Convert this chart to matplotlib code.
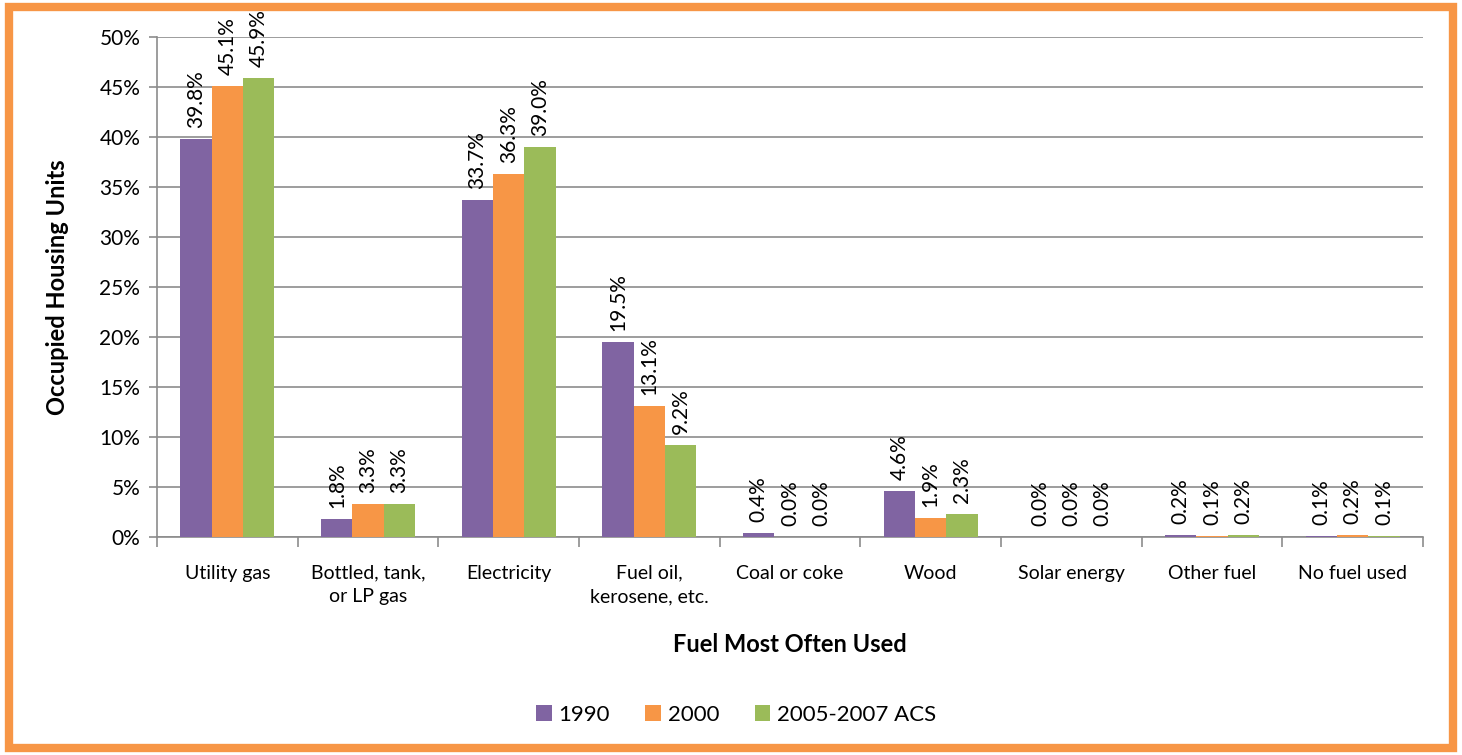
import numpy as np
import matplotlib
matplotlib.use("Agg")
import matplotlib.pyplot as plt
from matplotlib.patches import Rectangle
from matplotlib.ticker import FixedLocator, PercentFormatter

plt.rcParams['font.family'] = ['Lato', 'DejaVu Sans']

categories = ["Utility gas", "Bottled, tank,\nor LP gas", "Electricity", "Fuel oil,\nkerosene, etc.",
              "Coal or coke", "Wood", "Solar energy", "Other fuel", "No fuel used"]
series_names = ["1990", "2000", "2005-2007 ACS"]
v1990 = [39.8, 1.8, 33.7, 19.5, 0.4, 4.6, 0.0, 0.2, 0.1]
v2000 = [45.1, 3.3, 36.3, 13.1, 0.0, 1.9, 0.0, 0.1, 0.2]
v2005 = [45.9, 3.3, 39.0, 9.2, 0.0, 2.3, 0.0, 0.2, 0.1]
colors = ["#8064A2", "#F79646", "#9BBB59"]

fig = plt.figure(figsize=(14.62, 7.55), dpi=100)
ax = fig.add_axes([157/1462, 1-537/755, (1423-157)/1462, 500/755])

# orange frame around the chart
fig.patches.append(Rectangle((9/1462, 7/755), 1444/1462, 741/755, transform=fig.transFigure,
                             fill=False, edgecolor="#F79646", linewidth=6))

x = np.arange(len(categories))
w = 0.222
for i, (vals, col, name) in enumerate(zip([v1990, v2000, v2005], colors, series_names)):
    pos = x + (i - 1) * w
    ax.bar(pos, vals, width=w, color=col, label=name, zorder=3)
    for px, v in zip(pos, vals):
        ax.annotate(f"{v:.1f}%", (px, v), xytext=(0, 8), textcoords="offset points",
                    rotation=90, ha="center", va="bottom", fontsize=15)

ax.set_xlim(-0.5, len(categories) - 0.5)
ax.set_ylim(0, 50)
ax.yaxis.set_major_locator(FixedLocator(np.arange(0, 51, 5)))
ax.yaxis.set_major_formatter(PercentFormatter(decimals=0))
ax.grid(axis="y", color="#8C8C8C", linewidth=1.2, zorder=0)

ax.set_xticks(x)
ax.set_xticklabels(categories, fontsize=14, linespacing=1.45)
ax.xaxis.set_minor_locator(FixedLocator(np.arange(-0.5, len(categories), 1)))
ax.tick_params(axis="x", which="major", length=0, pad=20)
ax.tick_params(axis="x", which="minor", length=7, color="#8C8C8C", width=1.2)
ax.tick_params(axis="y", length=6, color="#8C8C8C", width=1.2, labelsize=15, pad=6)

for s in ["top", "right"]:
    ax.spines[s].set_visible(False)
for s in ["left", "bottom"]:
    ax.spines[s].set_color("#8C8C8C")
    ax.spines[s].set_linewidth(1.2)

ax.set_ylabel("Occupied Housing Units", fontsize=17, fontweight="bold", labelpad=22)
ax.set_xlabel("Fuel Most Often Used", fontsize=17, fontweight="bold", labelpad=20)

ax.legend(loc="center", bbox_to_anchor=(736/1462, 1-715/755), bbox_transform=fig.transFigure,
          ncol=3, frameon=False, fontsize=16, handlelength=0.7, handleheight=0.7,
          handletextpad=0.3, columnspacing=1.6)

fig.savefig("out.png", dpi=100, facecolor="white")
